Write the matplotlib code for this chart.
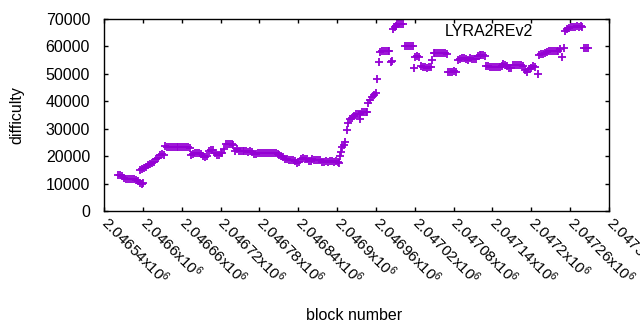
import matplotlib
matplotlib.use('Agg')
import matplotlib.pyplot as plt
import matplotlib.transforms as mtransforms

plt.rcParams['font.family'] = ['Liberation Sans', 'DejaVu Sans']
plt.rcParams['mathtext.fontset'] = 'custom'
plt.rcParams['mathtext.rm'] = 'Liberation Sans'
plt.rcParams['mathtext.default'] = 'regular'

# block numbers
blocks = [
    2046562, 2046565, 2046568, 2046571, 2046574, 2046577, 2046580, 2046583, 2046586, 2046589,
    2046592, 2046595, 2046598, 2046600, 2046596, 2046599, 2046602, 2046605, 2046608, 2046611,
    2046614, 2046617, 2046620, 2046623, 2046626, 2046629, 2046632, 2046634, 2046637, 2046640,
    2046643, 2046646, 2046649, 2046652, 2046655, 2046658, 2046661, 2046664, 2046667, 2046670,
    2046673, 2046675, 2046678, 2046681, 2046684, 2046687, 2046690, 2046693, 2046696, 2046699,
    2046702, 2046705, 2046708, 2046711, 2046714, 2046717, 2046720, 2046723, 2046726, 2046728,
    2046731, 2046734, 2046737, 2046740, 2046743, 2046745, 2046748, 2046751, 2046754, 2046757,
    2046760, 2046763, 2046766, 2046769, 2046772, 2046775, 2046778, 2046781, 2046784, 2046787,
    2046790, 2046793, 2046796, 2046799, 2046802, 2046805, 2046808, 2046811, 2046814, 2046817,
    2046820, 2046823, 2046826, 2046829, 2046832, 2046835, 2046838, 2046841, 2046844, 2046847,
    2046850, 2046853, 2046856, 2046859, 2046862, 2046865, 2046868, 2046871, 2046874, 2046877,
    2046880, 2046883, 2046886, 2046889, 2046892, 2046895, 2046898, 2046901, 2046903, 2046905,
    2046906, 2046908, 2046910, 2046912, 2046915, 2046917, 2046920, 2046923, 2046926, 2046929,
    2046932, 2046935, 2046936, 2046938, 2046941, 2046944, 2046946, 2046948, 2046951, 2046954,
    2046957, 2046960, 2046962, 2046965, 2046966, 2046969, 2046972, 2046975, 2046978, 2046980,
    2046983, 2046985, 2046987, 2046989, 2046991, 2046993, 2046996, 2046999, 2047002, 2047005,
    2047008, 2047011, 2047014, 2047017, 2047019, 2047021, 2047024, 2047027, 2047030, 2047033,
    2047036, 2047039, 2047042, 2047045, 2047047, 2047049, 2047052, 2047055, 2047058, 2047061,
    2047064, 2047067, 2047070, 2047072, 2047075, 2047078, 2047081, 2047084, 2047087, 2047090,
    2047093, 2047096, 2047099, 2047102, 2047105, 2047108, 2047111, 2047114, 2047117, 2047120,
    2047123, 2047126, 2047129, 2047130, 2047133, 2047136, 2047139, 2047142, 2047145, 2047148,
    2047151, 2047154, 2047157, 2047160, 2047163, 2047166, 2047169, 2047172, 2047175, 2047178,
    2047181, 2047184, 2047187, 2047190, 2047193, 2047196, 2047199, 2047202, 2047205, 2047210,
    2047212, 2047215, 2047218, 2047221, 2047224, 2047227, 2047230, 2047233, 2047236, 2047239,
    2047242, 2047245, 2047247, 2047250, 2047252, 2047255, 2047258, 2047261, 2047264, 2047267,
    2047270, 2047273, 2047276, 2047279, 2047282, 2047285, 2047288,
]

# difficulty per block
difficulty = [
    13100, 13000, 12600, 12100, 11800, 11700, 11600, 11600, 11500, 11300,
    10800, 10300, 10000, 10200, 15000, 15300, 15800, 16200, 16800, 17000,
    17500, 17900, 19000, 19500, 20300, 20800, 20500, 23800, 23400, 23400,
    23400, 23400, 23300, 23400, 23400, 23300, 23400, 23400, 23300, 23400,
    23000, 20400, 20600, 21200, 21300, 21000, 20800, 20000, 19700, 19900,
    22000, 22300, 22200, 21000, 20400, 20300, 21000, 21300, 22600, 24300,
    24500, 24400, 24300, 24000, 22000, 22500, 21800, 21800, 21900, 21700,
    21800, 21600, 21800, 21400, 20700, 20800, 21000, 21200, 21200, 21000,
    21100, 21000, 21100, 21000, 21000, 21000, 20900, 20300, 19900, 19700,
    19000, 18800, 18700, 18600, 18700, 18400, 17600, 17700, 19000, 19200,
    19100, 19000, 18200, 18300, 18800, 18700, 18600, 18700, 18500, 17900,
    17800, 18100, 18000, 18200, 18100, 18000, 18200, 18000, 17600, 20000,
    21500, 23300, 24000, 25000, 29500, 32100, 33500, 34000, 34500, 35200,
    35400, 35500, 33500, 36000, 36100, 36200, 36000, 39400, 40500, 41500,
    42200, 43000, 48100, 54300, 58000, 58500, 58500, 58500, 58400, 58300,
    54500, 54700, 66500, 67000, 67500, 68000, 68200, 68300, 68300, 60200,
    60300, 60200, 60200, 60100, 52100, 56300, 56500, 56200, 52800, 52500,
    52400, 52300, 52500, 52400, 55000, 57600, 57500, 57600, 57500, 57600,
    57500, 57600, 57300, 50800, 50600, 50700, 51000, 50600, 55000, 55500,
    55800, 55700, 55400, 55200, 55800, 55500, 55400, 55300, 56500, 56800,
    56800, 56900, 56600, 53000, 52900, 52600, 52400, 52400, 52500, 52400,
    52500, 53000, 53700, 53300, 52900, 52200, 52000, 53200, 53300, 53400,
    53200, 53300, 52900, 51500, 50800, 51600, 52300, 52700, 52500, 50000,
    57000, 57100, 57400, 57600, 58000, 58300, 58400, 58400, 58400, 58300,
    58400, 59000, 56200, 59300, 65600, 66300, 66800, 67000, 67200, 67200,
    67300, 67200, 67300, 67200, 59400, 59400, 59300,
]

xticks = [2046540 + 60 * i for i in range(14)]
xticklabels = ['2.04654', '2.0466', '2.04666', '2.04672', '2.04678', '2.04684', '2.0469',
               '2.04696', '2.04702', '2.04708', '2.04714', '2.0472', '2.04726', '2.04732']
yticks = [0, 10000, 20000, 30000, 40000, 50000, 60000, 70000]

fig = plt.figure(figsize=(6.4, 3.3), dpi=100)
ax = fig.add_axes([104 / 640, 1 - 211 / 330, 505 / 640, 192 / 330])

ax.plot(blocks, difficulty, linestyle='none', marker='+', markersize=6,
        markeredgewidth=1.3, color='#9400d3')

ax.set_xlim(2046540, 2047320)
ax.set_ylim(0, 70000)
ax.set_yticks(yticks)
ax.set_yticklabels([str(v) for v in yticks], fontsize=11.5)
ax.set_xticks(xticks)
ax.set_xticklabels([s + 'x10$^{6}$' for s in xticklabels], fontsize=11,
                   rotation=-45, ha='left', va='top', rotation_mode='anchor')
ax.tick_params(direction='in', length=3, width=1, top=True, right=True, pad=3)
ax.tick_params(axis='y', pad=10)
for s in ax.spines.values():
    s.set_linewidth(1)

# nudge rotated tick labels right, like gnuplot
shift = mtransforms.ScaledTranslation(0.07, 0.02, fig.dpi_scale_trans)
for lab in ax.get_xticklabels():
    lab.set_transform(lab.get_transform() + shift)

ax.text(0.675, 0.9375, 'LYRA2REv2', transform=ax.transAxes, fontsize=11.5,
        ha='left', va='center')

fig.text(17 / 640, 1 - 115 / 330, 'difficulty', rotation=90, ha='center', va='center',
         fontsize=11.5)
fig.text(354 / 640, 1 - 315 / 330, 'block number', ha='center', va='center', fontsize=11.5)

fig.savefig('out.png', dpi=100)
